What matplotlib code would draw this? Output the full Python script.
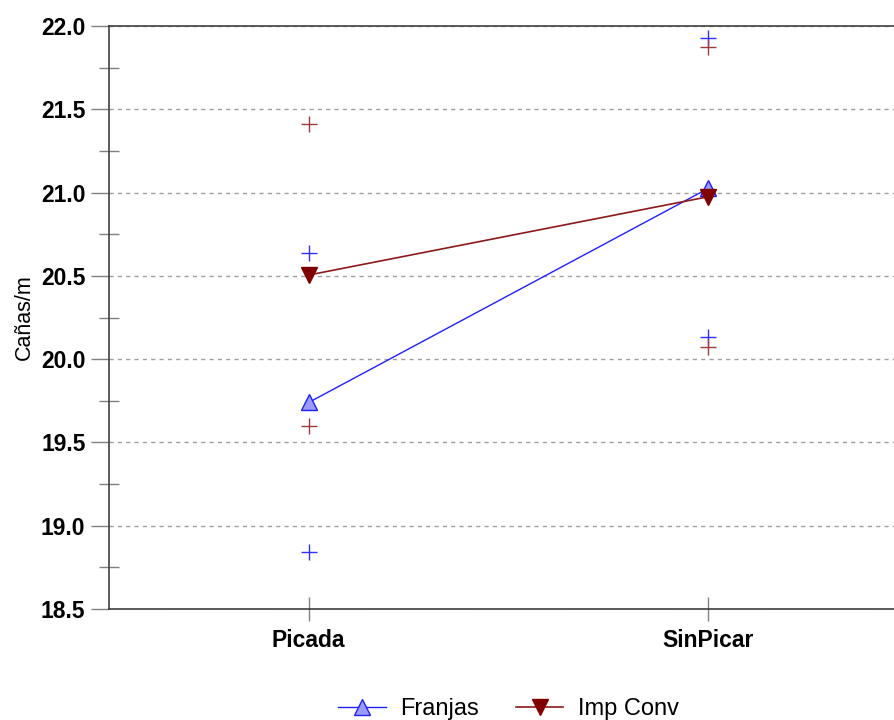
import matplotlib
matplotlib.use("Agg")
import matplotlib.pyplot as plt
from matplotlib.ticker import MultipleLocator

categories = ["Picada", "SinPicar"]
franjas_mean = [19.74, 21.025]
impconv_mean = [20.505, 20.975]
franjas_hi = [20.64, 21.93]
franjas_lo = [18.84, 20.13]
impconv_hi = [21.41, 21.875]
impconv_lo = [19.60, 20.075]

plt.rcParams['font.family'] = ['Liberation Sans', 'DejaVu Sans']

fig = plt.figure(figsize=(8.95, 7.2), dpi=100)
ax = fig.add_axes([109/895, 111/720, (908-109)/895, (609-26)/720])
x = list(range(len(categories)))

ax.plot(x, franjas_mean, color='#2020ff', lw=1, marker='^', ms=11,
        mfc='#9a9aff', mec='#2020ff', label='Franjas', zorder=4)
ax.plot(x, impconv_mean, color='#8b1a1a', lw=1.2, marker='v', ms=11,
        mfc='#800000', mec='#800000', label='Imp Conv', zorder=5)
ax.plot(x, franjas_hi, ls='none', marker='+', ms=12, mew=1, color='#3030ff')
ax.plot(x, franjas_lo, ls='none', marker='+', ms=12, mew=1, color='#3030ff')
ax.plot(x, impconv_hi, ls='none', marker='+', ms=12, mew=1, color='#a03a3a')
ax.plot(x, impconv_lo, ls='none', marker='+', ms=12, mew=1, color='#a03a3a')

ax.set_xlim(-0.5, 1.5)
ax.set_ylim(18.5, 22.0)
ax.set_xticks(x)
ax.set_xticklabels(categories, fontsize=16.5, fontweight='bold')
ax.yaxis.set_major_locator(MultipleLocator(0.5))
ax.yaxis.set_minor_locator(MultipleLocator(0.25))
ax.set_yticklabels([f"{v:.1f}" for v in ax.get_yticks()], fontsize=16.5, fontweight='bold')
ax.tick_params(axis='y', which='major', direction='out', length=13, color='#808080', width=1, pad=4)
ax.tick_params(axis='y', which='minor', direction='inout', length=15, color='#808080', width=1)
ax.tick_params(axis='x', which='major', direction='inout', length=17, color='#808080', width=1, pad=6)
ax.grid(axis='y', which='major', ls=(0, (3, 3)), color='#a0a0a0', lw=1)
ax.set_axisbelow(True)
for s in ['left', 'top', 'bottom']:
    ax.spines[s].set_color('#404040')
    ax.spines[s].set_linewidth(1.2)
ax.spines['right'].set_visible(False)
ax.set_ylabel('Cañas/m', fontsize=15.5, labelpad=4)

ax.legend(handles=ax.get_lines()[:2], loc='center', bbox_to_anchor=(0.5, -0.172),
          ncol=2, frameon=False, fontsize=17, handlelength=2.0, handletextpad=0.6,
          columnspacing=1.6)

fig.savefig('out.png', dpi=100)
